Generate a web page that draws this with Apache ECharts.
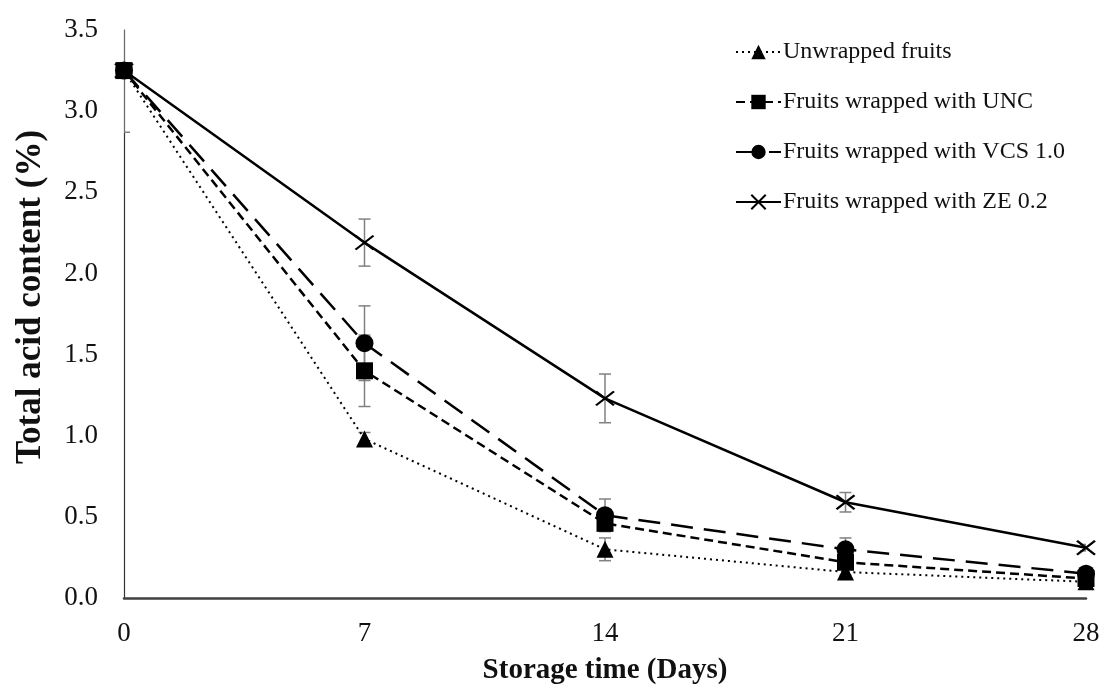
<!DOCTYPE html>
<html>
<head>
<meta charset="utf-8">
<script src="https://cdn.jsdelivr.net/npm/echarts@6/dist/echarts.min.js"></script>
<style>
  html, body { margin: 0; padding: 0; background: #fff; }
  #chart { width: 1105px; height: 688px; }
</style>
</head>
<body>
<div id="chart"></div>
<script>
// Storage time (days)
const days = [0, 7, 14, 21, 28];
const yTicks = [0, 0.5, 1.0, 1.5, 2.0, 2.5, 3.0, 3.5];

// Total acid content (%) and standard deviations per treatment
const unwrapped    = [3.25, 0.98, 0.30, 0.16, 0.10];
const unwrappedErr = [0.00, 0.04, 0.07, 0.02, 0.02];
const unc          = [3.25, 1.40, 0.46, 0.22, 0.12];
const uncErr       = [0.00, 0.22, 0.05, 0.03, 0.02];
const vcs          = [3.25, 1.57, 0.51, 0.30, 0.15];
const vcsErr       = [0.00, 0.23, 0.10, 0.07, 0.03];
const ze           = [3.25, 2.19, 1.23, 0.59, 0.31];
const zeErr        = [0.38, 0.145, 0.15, 0.06, 0.02];

const names = [
  'Unwrapped fruits',
  'Fruits wrapped with UNC',
  'Fruits wrapped with VCS 1.0',
  'Fruits wrapped with ZE 0.2'
];

const FONT = "'Liberation Serif', 'Times New Roman', serif";
const INK = '#000';
const CROSS = 'path://M0,0L10,10M10,0L0,10';

function pairs(vals) { return days.map((d, i) => [d, vals[i]]); }

function errorSeries(vals, errs) {
  const data = days.map((d, i) => [d, vals[i], errs[i]]).filter(r => r[2] > 0);
  return {
    type: 'custom',
    silent: true,
    z: 1,
    clip: true,
    data: data,
    encode: { x: 0, y: 1 },
    renderItem: function (params, api) {
      const x = api.value(0), y = api.value(1), e = api.value(2);
      const hi = api.coord([x, y + e]);
      const lo = api.coord([x, y - e]);
      const cap = 6;
      const style = { stroke: '#808080', lineWidth: 1.5 };
      return {
        type: 'group',
        children: [
          { type: 'line', shape: { x1: hi[0], y1: hi[1], x2: lo[0], y2: lo[1] }, style: style },
          { type: 'line', shape: { x1: hi[0] - cap, y1: hi[1], x2: hi[0] + cap, y2: hi[1] }, style: style },
          { type: 'line', shape: { x1: lo[0] - cap, y1: lo[1], x2: lo[0] + cap, y2: lo[1] }, style: style }
        ]
      };
    }
  };
}

function lineSeries(name, vals, dash, width, symbol, size, extraItem) {
  return {
    name: name,
    type: 'line',
    z: 3,
    data: pairs(vals),
    symbol: symbol,
    symbolSize: size,
    showAllSymbol: true,
    lineStyle: { color: INK, width: width, type: dash, cap: 'butt' },
    itemStyle: Object.assign({ color: INK, opacity: 1 }, extraItem || {}),
    emphasis: { disabled: true },
    animation: false
  };
}

const chart = echarts.init(document.getElementById('chart'), null, { renderer: 'canvas' });

chart.setOption({
  backgroundColor: '#fff',
  animation: false,
  textStyle: { fontFamily: FONT },
  grid: { left: 124, right: 19, top: 30, bottom: 90, containLabel: false, outerBoundsMode: 'none' },
  legend: {
    data: names,
    orient: 'vertical',
    left: 730,
    top: 35,
    itemWidth: 45,
    itemHeight: 18,
    itemGap: 26,
    selectedMode: false,
    textStyle: { fontFamily: FONT, fontSize: 24, color: '#111', lineHeight: 24, padding: [0, 0, 0, -3] }
  },
  graphic: [{
    type: 'text',
    x: 31,
    y: 297,
    rotation: Math.PI / 2,
    style: {
      text: 'Total acid content (%)',
      fontFamily: FONT,
      fontSize: 35,
      fontWeight: 'bold',
      fill: '#111',
      align: 'center',
      verticalAlign: 'middle'
    }
  }],
  xAxis: {
    type: 'value',
    min: 0,
    max: 28,
    interval: 7,
    name: 'Storage time (Days)',
    nameLocation: 'middle',
    nameGap: 58,
    nameTextStyle: { fontFamily: FONT, fontSize: 29, fontWeight: 'bold', color: '#111' },
    axisLine: { show: true, onZero: false, lineStyle: { color: '#404040', width: 2.5 } },
    axisTick: { show: false },
    splitLine: { show: false },
    axisLabel: { fontFamily: FONT, fontSize: 27, color: '#111', margin: 22 }
  },
  yAxis: {
    type: 'value',
    min: yTicks[0],
    max: yTicks[yTicks.length - 1],
    interval: 0.5,
    axisLine: { show: true, lineStyle: { color: '#333', width: 1.2 } },
    axisTick: { show: false },
    splitLine: { show: false },
    axisLabel: {
      fontFamily: FONT, fontSize: 27, color: '#111', margin: 26,
      formatter: v => v.toFixed(1)
    }
  },
  series: [
    errorSeries(unwrapped, unwrappedErr),
    errorSeries(unc, uncErr),
    errorSeries(vcs, vcsErr),
    errorSeries(ze, zeErr),
    lineSeries(names[0], unwrapped, [2, 4], 2, 'triangle', 17),
    lineSeries(names[1], unc, [9, 5], 2.5, 'rect', 17),
    lineSeries(names[2], vcs, [22, 11], 2.5, 'circle', 18),
    lineSeries(names[3], ze, 'solid', 2.5, CROSS, [18, 14], { color: 'none', borderColor: INK, borderWidth: 2.2 })
  ]
});
</script>
</body>
</html>
